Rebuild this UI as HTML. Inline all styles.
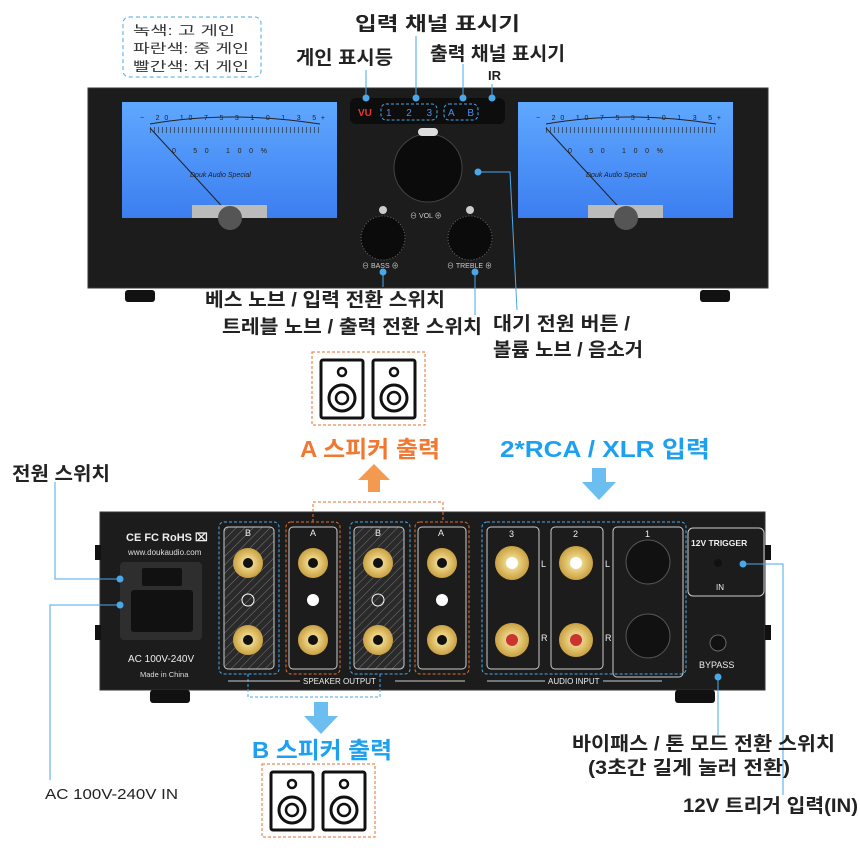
<!DOCTYPE html>
<html><head><meta charset="utf-8"><style>
html,body{margin:0;padding:0;background:#fff}
svg{display:block}
text{font-family:"Liberation Sans","Noto Sans CJK KR",sans-serif}
.k{font-weight:bold;fill:#222}
</style></head><body>
<svg width="860" height="860" viewBox="0 0 860 860" xmlns="http://www.w3.org/2000/svg">
<defs>
<pattern id="hat" width="6" height="6" patternUnits="userSpaceOnUse" patternTransform="rotate(45)">
<rect width="6" height="6" fill="#2a2a2a"/><line x1="0" y1="0" x2="0" y2="6" stroke="#777" stroke-width="1"/></pattern>
<radialGradient id="gold"><stop offset="0" stop-color="#fff2b0"/><stop offset="1" stop-color="#c9a040"/></radialGradient>
<linearGradient id="blue" x1="0" y1="0" x2="0" y2="1"><stop offset="0" stop-color="#5fa8ff"/><stop offset="1" stop-color="#3c7ef0"/></linearGradient>
</defs>

<rect x="123" y="17" width="138" height="60" rx="6" fill="none" stroke="#4aa8e8" stroke-dasharray="4,3"/>
<text x="133" y="35" font-size="13" fill="#333" textLength="102" lengthAdjust="spacingAndGlyphs">녹색: 고 게인</text>
<text x="133" y="53" font-size="13" fill="#333" textLength="116" lengthAdjust="spacingAndGlyphs">파란색: 중 게인</text>
<text x="133" y="71" font-size="13" fill="#333" textLength="116" lengthAdjust="spacingAndGlyphs">빨간색: 저 게인</text>
<text x="355" y="30" font-size="19" class="k" textLength="165" lengthAdjust="spacingAndGlyphs">입력 채널 표시기</text>
<text x="296" y="64" font-size="19" class="k" textLength="97" lengthAdjust="spacingAndGlyphs">게인 표시등</text>
<text x="430" y="60" font-size="19" class="k" textLength="135" lengthAdjust="spacingAndGlyphs">출력 채널 표시기</text>
<text x="488" y="80" font-size="13" class="k">IR</text>

<rect x="88" y="88" width="680" height="200" fill="#1c1c1c" stroke="#333"/>
<rect x="125" y="290" width="30" height="12" rx="3" fill="#111"/>
<rect x="700" y="290" width="30" height="12" rx="3" fill="#111"/>
<g id="vu">
<rect x="122" y="102" width="215" height="116" fill="url(#blue)"/>
<path d="M150 124 Q230 110 320 124" fill="none" stroke="#222"/>
<path d="M150 130 L320 130" fill="none" stroke="#222" stroke-dasharray="1,3" stroke-width="6" opacity="0.6"/>
<text x="140" y="120" font-size="7" fill="#222" textLength="185" lengthAdjust="spacing">−  20  10  7  5  3  1  0  1   3   5+</text>
<text x="172" y="153" font-size="7" fill="#222" textLength="95" lengthAdjust="spacing">0   50   100%</text>
<text x="190" y="177" font-size="7" font-style="italic" fill="#222">Douk Audio Special</text>
<line x1="230" y1="215" x2="150" y2="128" stroke="#222"/>
<rect x="192" y="205" width="75" height="13" fill="#bbb"/>
<circle cx="230" cy="218" r="12" fill="#555"/>
</g>
<use href="#vu" x="396"/>
<rect x="350" y="98" width="155" height="26" rx="6" fill="#0d0d0d"/>
<text x="358" y="116" font-size="10" fill="#e33" font-weight="bold">VU</text>
<rect x="381" y="104" width="56" height="16" rx="5" fill="none" stroke="#4aa8e8" stroke-dasharray="3,2"/>
<text x="386" y="116" font-size="10" fill="#4a90f0" textLength="46" lengthAdjust="spacing">1  2  3</text>
<rect x="444" y="104" width="34" height="16" rx="5" fill="none" stroke="#4aa8e8" stroke-dasharray="3,2"/>
<text x="448" y="116" font-size="10" fill="#4a90f0" textLength="26" lengthAdjust="spacing">A  B</text>
<circle cx="366" cy="98" r="3.5" fill="#4aa8e8"/><circle cx="416" cy="98" r="3.5" fill="#4aa8e8"/>
<circle cx="463" cy="98" r="3.5" fill="#4aa8e8"/><circle cx="492" cy="98" r="3.5" fill="#4aa8e8"/>
<line x1="366" y1="70" x2="366" y2="98" stroke="#4aa8e8"/>
<line x1="416" y1="36" x2="416" y2="98" stroke="#4aa8e8"/>
<line x1="463" y1="64" x2="463" y2="98" stroke="#4aa8e8"/>
<line x1="492" y1="84" x2="492" y2="98" stroke="#4aa8e8"/>
<circle cx="428" cy="168" r="34" fill="#0b0b0b" stroke="#444"/>
<rect x="418" y="128" width="20" height="8" rx="4" fill="#ddd"/>
<circle cx="383" cy="238" r="22" fill="#0b0b0b" stroke="#666" stroke-dasharray="1,2"/>
<circle cx="470" cy="238" r="22" fill="#0b0b0b" stroke="#666" stroke-dasharray="1,2"/>
<text x="410" y="218" font-size="7" fill="#ccc">⊖  VOL  ⊕</text>
<text x="362" y="268" font-size="7" fill="#ccc">⊖ BASS ⊕</text>
<text x="447" y="268" font-size="7" fill="#ccc">⊖ TREBLE ⊕</text>
<circle cx="383" cy="210" r="4" fill="#ccc"/><circle cx="470" cy="210" r="4" fill="#ccc"/>
<circle cx="383" cy="272" r="3.5" fill="#4aa8e8"/><line x1="383" y1="272" x2="383" y2="287" stroke="#4aa8e8"/>
<circle cx="475" cy="272" r="3.5" fill="#4aa8e8"/><line x1="475" y1="272" x2="475" y2="315" stroke="#4aa8e8"/>
<circle cx="478" cy="172" r="3.5" fill="#4aa8e8"/><polyline points="478,172 510,172 517,310" fill="none" stroke="#4aa8e8"/>
<text x="205" y="306" font-size="19" class="k" textLength="240" lengthAdjust="spacingAndGlyphs">베스 노브 / 입력 전환 스위치</text>
<text x="222" y="333" font-size="19" class="k" textLength="260" lengthAdjust="spacingAndGlyphs">트레블 노브 / 출력 전환 스위치</text>
<text x="493" y="330" font-size="19" class="k" textLength="137" lengthAdjust="spacingAndGlyphs">대기 전원 버튼 /</text>
<text x="493" y="356" font-size="19" class="k" textLength="150" lengthAdjust="spacingAndGlyphs">볼륨 노브 / 음소거</text>

<g id="spk">
<rect x="312" y="352" width="113" height="73" fill="none" stroke="#e07030" stroke-dasharray="3,2"/>
<g id="one"><rect x="321" y="360" width="42" height="58" rx="2" fill="#fff" stroke="#111" stroke-width="3"/>
<circle cx="342" cy="372" r="4" fill="none" stroke="#111" stroke-width="2.5"/>
<circle cx="342" cy="398" r="13" fill="none" stroke="#111" stroke-width="3"/>
<circle cx="342" cy="398" r="6" fill="none" stroke="#111" stroke-width="2.5"/></g>
<use href="#one" x="52"/>
</g>
<text x="300" y="457" font-size="23" font-weight="bold" fill="#f07830" textLength="140" lengthAdjust="spacingAndGlyphs">A 스피커 출력</text>
<polygon points="368,492 368,480 358,480 374,464 390,480 380,480 380,492" fill="#f39a50"/>
<text x="500" y="457" font-size="23" font-weight="bold" fill="#1ea0f0" textLength="210" lengthAdjust="spacingAndGlyphs">2*RCA / XLR 입력</text>
<polygon points="592,468 606,468 606,482 616,482 599,500 582,482 592,482" fill="#6cbdf0"/>
<text x="12" y="480" font-size="19" class="k" textLength="98" lengthAdjust="spacingAndGlyphs">전원 스위치</text>

<rect x="100" y="512" width="665" height="178" fill="#1c1c1c" stroke="#333"/>
<rect x="95" y="545" width="6" height="15" fill="#111"/><rect x="95" y="625" width="6" height="15" fill="#111"/>
<rect x="765" y="545" width="6" height="15" fill="#111"/><rect x="765" y="625" width="6" height="15" fill="#111"/>
<rect x="150" y="690" width="40" height="13" rx="3" fill="#111"/><rect x="675" y="690" width="40" height="13" rx="3" fill="#111"/>
<text x="126" y="541" font-size="11" font-weight="bold" fill="#eee">CE FC RoHS ⌧</text>
<text x="128" y="555" font-size="8" fill="#ddd">www.doukaudio.com</text>
<rect x="120" y="562" width="82" height="78" rx="4" fill="#2e2e2e"/>
<rect x="142" y="568" width="40" height="18" rx="2" fill="#111"/>
<rect x="131" y="590" width="62" height="42" rx="3" fill="#111"/>
<text x="128" y="662" font-size="10" fill="#eee">AC 100V-240V</text>
<text x="140" y="677" font-size="7.5" fill="#ddd">Made in China</text>
<g fill="none">
<rect x="224" y="527" width="50" height="142" rx="4" fill="url(#hat)" stroke="#ccc"/>
<rect x="289" y="527" width="48" height="142" rx="4" stroke="#ccc"/>
<rect x="354" y="527" width="50" height="142" rx="4" fill="url(#hat)" stroke="#ccc"/>
<rect x="418" y="527" width="48" height="142" rx="4" stroke="#ccc"/>
<rect x="219" y="522" width="60" height="152" rx="5" stroke="#4aa8e8" stroke-dasharray="3,2"/>
<rect x="286" y="522" width="54" height="152" rx="5" stroke="#e07030" stroke-dasharray="3,2"/>
<rect x="350" y="522" width="60" height="152" rx="5" stroke="#4aa8e8" stroke-dasharray="3,2"/>
<rect x="415" y="522" width="54" height="152" rx="5" stroke="#e07030" stroke-dasharray="3,2"/>
<rect x="482" y="522" width="204" height="152" rx="5" stroke="#4aa8e8" stroke-dasharray="3,2"/>
<rect x="487" y="527" width="52" height="142" rx="4" stroke="#ccc"/>
<rect x="551" y="527" width="52" height="142" rx="4" stroke="#ccc"/>
<rect x="613" y="527" width="70" height="150" rx="4" stroke="#ccc"/>
<rect x="688" y="528" width="76" height="68" rx="5" stroke="#ccc"/>
<polyline points="313,522 313,502 443,502 443,522" stroke="#e07030" stroke-dasharray="3,2"/>
<polyline points="248,674 248,697 380,697 380,674" stroke="#4aa8e8" stroke-dasharray="3,2"/>
<line x1="228" y1="681" x2="300" y2="681" stroke="#ccc"/><line x1="395" y1="681" x2="465" y2="681" stroke="#ccc"/>
<line x1="487" y1="681" x2="545" y2="681" stroke="#ccc"/><line x1="603" y1="681" x2="662" y2="681" stroke="#ccc"/>
</g>
<g fill="#eee" font-size="9">
<text x="245" y="536">B</text><text x="310" y="536">A</text><text x="375" y="536">B</text><text x="438" y="536">A</text>
<text x="509" y="537">3</text><text x="573" y="537">2</text><text x="645" y="537">1</text>
<text x="541" y="567">L</text><text x="605" y="567">L</text><text x="541" y="641">R</text><text x="605" y="641">R</text>
<text x="303" y="684" font-size="8">SPEAKER OUTPUT</text>
<text x="548" y="684" font-size="8">AUDIO INPUT</text>
<text x="691" y="546" font-size="8.5" font-weight="bold">12V TRIGGER</text>
<text x="716" y="590" font-size="8">IN</text>
<text x="699" y="668" font-size="9">BYPASS</text>
</g>
<g fill="url(#gold)">
<circle cx="248" cy="563" r="15"/><circle cx="248" cy="640" r="15"/>
<circle cx="313" cy="563" r="15"/><circle cx="313" cy="640" r="15"/>
<circle cx="378" cy="563" r="15"/><circle cx="378" cy="640" r="15"/>
<circle cx="442" cy="563" r="15"/><circle cx="442" cy="640" r="15"/>
<circle cx="512" cy="563" r="17"/><circle cx="512" cy="640" r="17"/>
<circle cx="576" cy="563" r="17"/><circle cx="576" cy="640" r="17"/>
</g>
<g fill="#111">
<circle cx="248" cy="563" r="5"/><circle cx="248" cy="640" r="5"/><circle cx="313" cy="563" r="5"/><circle cx="313" cy="640" r="5"/>
<circle cx="378" cy="563" r="5"/><circle cx="378" cy="640" r="5"/><circle cx="442" cy="563" r="5"/><circle cx="442" cy="640" r="5"/>
<circle cx="648" cy="562" r="22" stroke="#555"/><circle cx="648" cy="636" r="22" stroke="#555"/>
<circle cx="718" cy="563" r="4"/><circle cx="718" cy="643" r="8" stroke="#666"/>
</g>
<g fill="#fff"><circle cx="512" cy="563" r="6"/><circle cx="576" cy="563" r="6"/></g>
<g fill="#c33"><circle cx="512" cy="640" r="6"/><circle cx="576" cy="640" r="6"/></g>
<g fill="#fff"><circle cx="248" cy="600" r="6" fill="none" stroke="#fff"/><circle cx="313" cy="600" r="6"/>
<circle cx="378" cy="600" r="6" fill="none" stroke="#fff"/><circle cx="442" cy="600" r="6"/></g>

<polyline points="120,579 55,579 55,482" fill="none" stroke="#4aa8e8"/>
<circle cx="120" cy="579" r="3.5" fill="#4aa8e8"/>
<polyline points="120,605 50,605 50,780" fill="none" stroke="#4aa8e8"/>
<circle cx="120" cy="605" r="3.5" fill="#4aa8e8"/>
<circle cx="743" cy="564" r="3.5" fill="#4aa8e8"/><polyline points="743,564 783,564 783,795" fill="none" stroke="#4aa8e8"/>
<circle cx="718" cy="677" r="3.5" fill="#4aa8e8"/><line x1="718" y1="677" x2="718" y2="735" stroke="#4aa8e8"/>

<polygon points="314,702 328,702 328,716 338,716 321,734 304,716 314,716" fill="#6cbdf0"/>
<text x="252" y="758" font-size="23" font-weight="bold" fill="#1ea0f0" textLength="140" lengthAdjust="spacingAndGlyphs">B 스피커 출력</text>
<use href="#spk" x="-50" y="412"/>
<text x="45" y="799" font-size="15" fill="#222" textLength="133" lengthAdjust="spacingAndGlyphs">AC 100V-240V IN</text>
<text x="572" y="750" font-size="19" class="k" textLength="263" lengthAdjust="spacingAndGlyphs">바이패스 / 톤 모드 전환 스위치</text>
<text x="588" y="774" font-size="19" class="k" textLength="202" lengthAdjust="spacingAndGlyphs">(3초간 길게 눌러 전환)</text>
<text x="683" y="812" font-size="19" class="k" textLength="175" lengthAdjust="spacingAndGlyphs">12V 트리거 입력(IN)</text>
</svg>
</body></html>
